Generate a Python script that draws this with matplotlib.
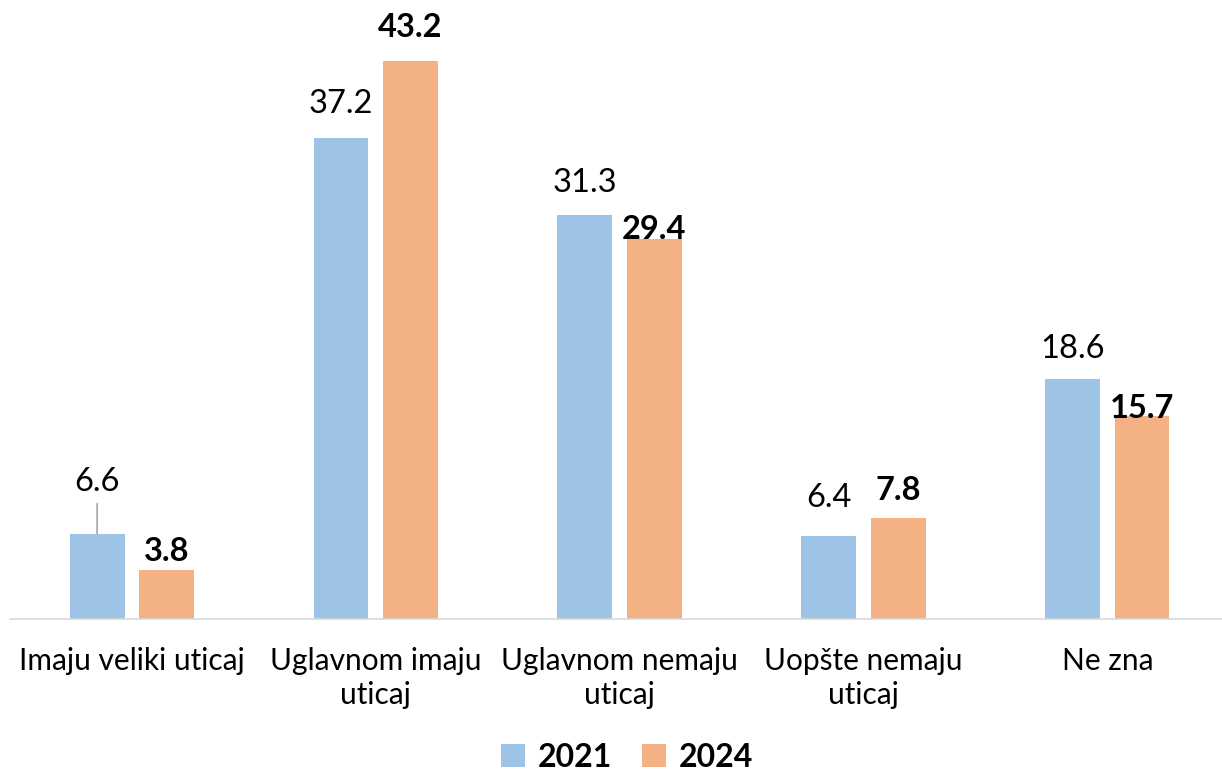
import matplotlib
matplotlib.use('Agg')
import matplotlib.pyplot as plt
import numpy as np

categories = ['Imaju veliki uticaj', 'Uglavnom imaju\nuticaj', 'Uglavnom nemaju\nuticaj',
              'Uopšte nemaju\nuticaj', 'Ne zna']
values_2021 = [6.6, 37.2, 31.3, 6.4, 18.6]
values_2024 = [3.8, 43.2, 29.4, 7.8, 15.7]
series_names = ['2021', '2024']

# label offsets above bar tops, in pixels
off_2021 = [52, 34, 32, 38, 30]
off_2024 = [18, 33, 10, 28, 8]
leader_2021 = [True, False, False, False, False]

plt.rcParams['font.family'] = ['Lato', 'DejaVu Sans']

fig = plt.figure(figsize=(12.22, 7.77), dpi=100)
ax = fig.add_axes([0.008, 1 - 619 / 777, 0.998, 619 / 777])

x = np.arange(len(categories))
w = 0.225
c1 = '#9DC3E6'
c2 = '#F4B183'
b1 = ax.bar(x - 0.142, values_2021, w, color=c1, label=series_names[0], zorder=2)
b2 = ax.bar(x + 0.142, values_2024, w, color=c2, label=series_names[1], zorder=2)

for i, v in enumerate(values_2021):
    if leader_2021[i]:
        ax.annotate(f'{v:.1f}', xy=(x[i] - 0.142, v), xytext=(0, off_2021[i]),
                    textcoords='offset pixels', ha='center', va='center', fontsize=23.5,
                    arrowprops=dict(arrowstyle='-', color='#A6A6A6', lw=1.2, shrinkA=3, shrinkB=0))
    else:
        ax.annotate(f'{v:.1f}', xy=(x[i] - 0.142, v), xytext=(0, off_2021[i]),
                    textcoords='offset pixels', ha='center', va='center', fontsize=23.5)
for i, v in enumerate(values_2024):
    ax.annotate(f'{v:.1f}', xy=(x[i] + 0.142, v), xytext=(0, off_2024[i]),
                textcoords='offset pixels', ha='center', va='center', fontsize=23.5,
                fontweight='bold')

ax.set_xlim(-0.5, 4.5)
ax.set_ylim(0, 619 / 12.92)
ax.set_xticks(x)
ax.set_xticklabels(categories, fontsize=21.5, linespacing=1.25)
ax.tick_params(axis='x', length=0, pad=20)
ax.set_yticks([])
for s in ['top', 'right', 'left']:
    ax.spines[s].set_visible(False)
ax.spines['bottom'].set_color('#D9D9D9')
ax.spines['bottom'].set_linewidth(1.2)
ax.patch.set_alpha(0)

fig.legend(handles=[b1, b2], loc='lower center', bbox_to_anchor=(0.513, -0.03), ncol=2,
           frameon=False, handlelength=0.75, handleheight=0.75, handletextpad=0.4,
           columnspacing=0.95, prop={'size': 23, 'weight': 'bold'})

fig.savefig('out.png', dpi=100)
